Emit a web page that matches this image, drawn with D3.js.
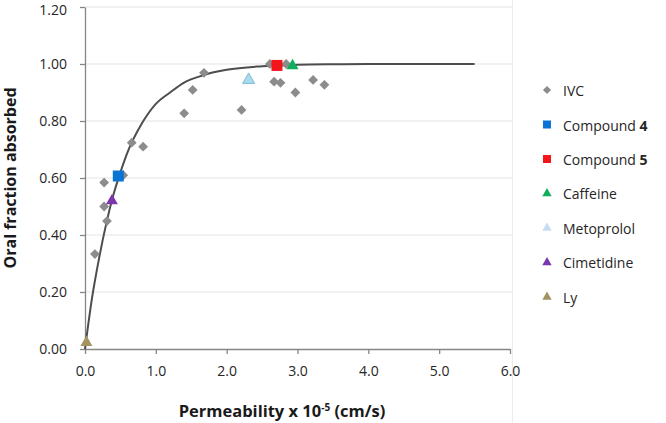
<!DOCTYPE html>
<html><head><meta charset="utf-8">
<script src="https://cdn.jsdelivr.net/npm/d3@7"></script>
<style>
body{margin:0;background:#fff;}
svg{display:block;font-family:"Open Sans","Liberation Sans",sans-serif;}
</style></head>
<body><div id="chart"></div>
<script>
// ---- data ----
const ivcX = [0.14,0.27,0.27,0.31,0.54,0.66,0.82,1.40,1.52,1.68,2.21,2.61,2.67,2.76,2.84,2.97,3.22,3.38];
const ivcY = [0.333,0.50,0.584,0.449,0.61,0.724,0.71,0.827,0.909,0.969,0.839,1.00,0.938,0.934,1.00,0.90,0.944,0.927];
const compoundNames = ["Compound 4","Compound 5","Caffeine","Metoprolol","Cimetidine","Ly"];
const compoundX = [0.47,2.71,2.93,2.31,0.38,0.02];
const compoundY = [0.607,0.995,0.994,0.944,0.52,0.023];
const fitX = [0,0.1,0.2,0.3,0.4,0.5,0.6,0.8,1.0,1.2,1.4,1.6,1.8,2.0,2.5,3.0,3.5,4.0,5.5];
const fitY = [0,0.18,0.32,0.44,0.54,0.62,0.69,0.79,0.86,0.90,0.935,0.955,0.97,0.98,0.992,0.997,0.999,1.0,1.0];
const xTicks = [0,1,2,3,4,5,6];
const yTicks = [0,0.2,0.4,0.6,0.8,1.0,1.2];
const legendLabels = ["IVC","Compound 4","Compound 5","Caffeine","Metoprolol","Cimetidine","Ly"];

// ---- styles ----
const W=666,H=423;
const plot={left:85,right:510,top:7,bottom:349};
const markerSym = {"IVC":d3.symbolSquare,"Compound 4":d3.symbolSquare,"Compound 5":d3.symbolSquare,
  "Caffeine":d3.symbolTriangle,"Metoprolol":d3.symbolTriangle,"Cimetidine":d3.symbolTriangle,"Ly":d3.symbolTriangle};
const markerRot = {"IVC":45};
const markerFill = {"IVC":"#8c8c8c","Compound 4":"#0a74d2","Compound 5":"#f5141a","Caffeine":"#10ad5c",
  "Metoprolol":"#a8dcec","Cimetidine":"#7d35ad","Ly":"#a39563"};
const markerStroke = {"Metoprolol":"#7bbbd4"};
const markerSize = {"IVC":48,"Compound 4":121,"Compound 5":121,"Caffeine":62,"Metoprolol":62,"Cimetidine":62,"Ly":62};
const legendFill = Object.assign({},markerFill,{"Metoprolol":"#c6dcf0"});
const legendSize = {"IVC":34,"Compound 4":64,"Compound 5":64,"Caffeine":38,"Metoprolol":38,"Cimetidine":38,"Ly":38};

const svg=d3.select("#chart").append("svg").attr("width",W).attr("height",H);
const x=d3.scaleLinear().domain([0,6]).range([plot.left,plot.right]);
const y=d3.scaleLinear().domain([0,1.2]).range([plot.bottom,plot.top]);

// gridlines
svg.append("g").selectAll("line").data(yTicks.filter(d=>d>0)).join("line")
  .attr("x1",plot.left).attr("x2",plot.right+2).attr("y1",d=>y(d)).attr("y2",d=>y(d))
  .attr("stroke","#e3e3e3").attr("stroke-width",1);
svg.append("line").attr("x1",plot.right+2.5).attr("x2",plot.right+2.5).attr("y1",0).attr("y2",H)
  .attr("stroke","#ececec");

// axes
const xAxis=svg.append("g").attr("transform",`translate(0,${plot.bottom})`)
  .call(d3.axisBottom(x).tickValues(xTicks).tickFormat(d3.format(".1f")).tickSizeInner(5).tickSizeOuter(0).tickPadding(12));
const yAxis=svg.append("g").attr("transform",`translate(${plot.left},0)`)
  .call(d3.axisLeft(y).tickValues(yTicks).tickFormat(d3.format(".2f")).tickSizeInner(5).tickSizeOuter(0).tickPadding(13));
[xAxis,yAxis].forEach(g=>{
  g.select(".domain").attr("stroke","#868686").attr("stroke-width",1.3);
  g.selectAll(".tick line").attr("stroke","#868686").attr("stroke-width",1.3);
  g.selectAll(".tick text").attr("fill","#262626").style("font-size","14px").style("font-family",'"Open Sans",sans-serif');
});
// keep the top label inside the picture
yAxis.selectAll(".tick text").filter(d=>d===1.2).attr("dy","0.5em");

// fit curve
svg.append("path").datum(fitX.map((d,i)=>[d,fitY[i]]))
  .attr("fill","none").attr("stroke","#4d4d4d").attr("stroke-width",2)
  .attr("d",d3.line().x(d=>x(d[0])).y(d=>y(d[1])).curve(d3.curveMonotoneX));

// IVC points
svg.append("g").selectAll("path").data(ivcX.map((d,i)=>[d,ivcY[i]])).join("path")
  .attr("transform",d=>`translate(${x(d[0])},${y(d[1])}) rotate(45)`)
  .attr("d",d3.symbol().type(markerSym["IVC"]).size(markerSize["IVC"]))
  .attr("fill",markerFill["IVC"]);

// compounds
svg.append("g").selectAll("path").data(compoundNames.map((n,i)=>({n,x:compoundX[i],y:compoundY[i]}))).join("path")
  .attr("transform",d=>`translate(${x(d.x)},${y(d.y)})`)
  .attr("d",d=>d3.symbol().type(markerSym[d.n]).size(markerSize[d.n])())
  .attr("fill",d=>markerFill[d.n])
  .attr("stroke",d=>markerStroke[d.n]||"none").attr("stroke-width",1);

// axis titles
svg.append("text")
  .attr("transform",`translate(10,${(plot.top+plot.bottom)/2}) rotate(-90)`)
  .attr("text-anchor","middle").attr("dominant-baseline","central")
  .style("font-size","16px").style("font-weight","bold").attr("fill","#1a1a1a")
  .text("Oral fraction absorbed");
const xt=svg.append("text").attr("x",282).attr("y",417).attr("text-anchor","middle")
  .style("font-size","16.5px").style("font-weight","bold").attr("fill","#1a1a1a");
xt.append("tspan").text("Permeability x 10");
xt.append("tspan").attr("dy",-6).style("font-size","10px").text("-5");
xt.append("tspan").attr("dy",6).text(" (cm/s)");

// legend
const lg=svg.append("g").selectAll("g").data(legendLabels).join("g")
  .attr("transform",(d,i)=>`translate(547,${90+i*34.5})`);
lg.append("path").attr("d",d=>d3.symbol().type(markerSym[d]).size(legendSize[d])())
  .attr("transform",d=>markerRot[d]?`rotate(${markerRot[d]})`:null)
  .attr("fill",d=>legendFill[d]);
const lt=lg.append("text").attr("x",16).attr("dominant-baseline","central")
  .style("font-size","14px").attr("fill","#262626");
lt.each(function(d){
  const t=d3.select(this);
  const m=d.match(/^(Compound )(\d)$/);
  if(m){t.append("tspan").text(m[1]);t.append("tspan").style("font-weight","bold").text(m[2]);}
  else t.text(d);
});
</script></body></html>
